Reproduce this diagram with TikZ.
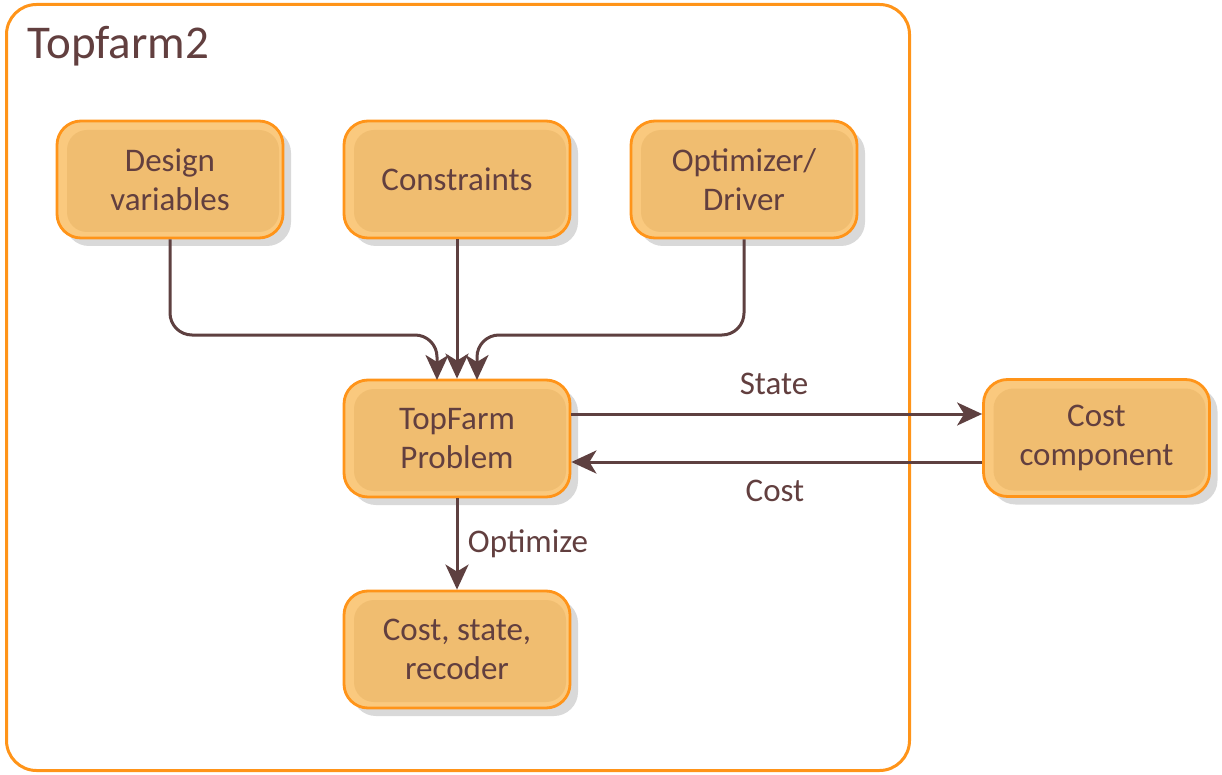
\documentclass[tikz,border=0pt]{standalone}
\usepackage{fontspec}
\setmainfont{Carlito}
\usetikzlibrary{arrows.meta,shadows}
\definecolor{boxfill}{HTML}{F0BD70}
\definecolor{boxlight}{HTML}{FAC97E}
\definecolor{boxedge}{HTML}{FF9419}
\definecolor{shade}{HTML}{D9D9D9}
\definecolor{ink}{HTML}{623F3F}
\definecolor{wire}{HTML}{5E4040}
\tikzset{
  procbox/.style={
    minimum width=226pt, minimum height=117pt, rounded corners=24pt,
    draw=boxedge, line width=2.8pt, fill=boxlight,
    text=ink, align=center, font=\fontsize{33}{39}\selectfont,
    drop shadow={shadow xshift=8pt, shadow yshift=-8pt, fill=shade, opacity=1},
    path picture={\fill[boxfill, rounded corners=20pt]
      ([xshift=10pt,yshift=-9pt]path picture bounding box.north west) rectangle
      ([xshift=-4pt,yshift=6pt]path picture bounding box.south east);}
  },
  link/.style={draw=wire, line width=3pt,
    -{Stealth[length=25pt, width=23pt, inset=7pt]}},
  lbl/.style={text=ink, font=\fontsize{33}{39}\selectfont}
}
\begin{document}
\begin{tikzpicture}[x=1pt,y=-1pt]
\useasboundingbox (0,0) rectangle (1222,775);
% frame
\node[draw=boxedge, line width=3pt, rounded corners=30pt, fill=white,
  minimum width=903pt, minimum height=766pt, anchor=north west] (frame) at (5,3) {};
\node[text=ink, font=\fontsize{47}{54}\selectfont, anchor=west] (title) at (24,46) {Topfarm2};
% boxes
\node[procbox] (dv) at (170,179.5) {Design\\variables};
\node[procbox] (con) at (457,179.5) {Constraints};
\node[procbox] (opt) at (744,179.5) {Optimizer/\\Driver};
\node[procbox] (tp) at (457,438.5) {TopFarm\\Problem};
\node[procbox] (cc) at (1096.5,438) {Cost\\component};
\node[procbox] (rec) at (457,649.5) {Cost, state,\\recoder};
% connectors
\draw[link, rounded corners=22pt] (dv.south) -- (170,335) -- (437,335) -- (437,380);
\draw[link] (con.south) -- (tp.north);
\draw[link, rounded corners=22pt] (opt.south) -- (744,335) -- (477,335) -- (477,380);
\draw[link] (tp.east |- 0,414) -- (cc.west |- 0,414);
\draw[link] (cc.west |- 0,462) -- (tp.east |- 0,462);
\draw[link] (tp.south) -- (rec.north);
\node[lbl] (state) at (774,384) {State};
\node[lbl] (cost) at (775,491) {Cost};
\node[lbl] (optz) at (528,544) {Optimize};
\end{tikzpicture}
\end{document}
